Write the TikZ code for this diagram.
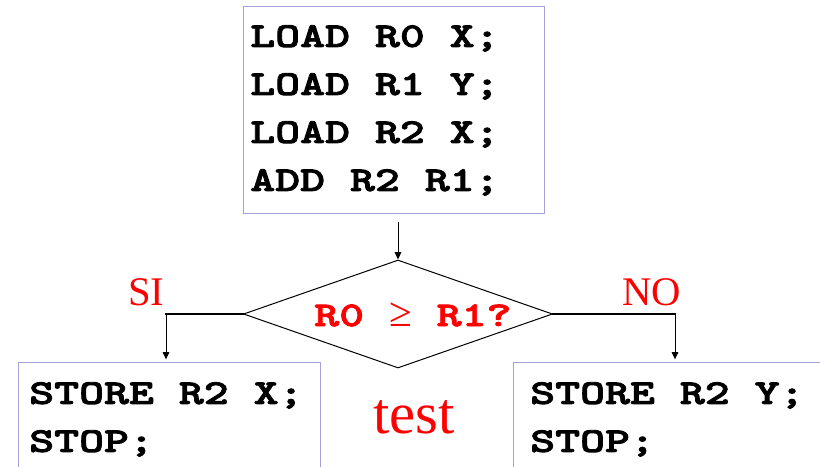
\documentclass[tikz,border=0pt]{standalone}
\usepackage{fontspec}
\setmainfont{Liberation Serif}
\newfontfamily\codefont[FakeStretch=1.37,FakeBold=2.5]{lmmonolt10-bold.otf}
\usetikzlibrary{shapes.geometric,arrows.meta}
\definecolor{boxline}{RGB}{163,163,214}
\newcommand\geqsym{{\rmfamily\mdseries\fontsize{31}{36}\selectfont ≥}}
\begin{document}
\begin{tikzpicture}[x=0.75pt,y=-0.75pt,
  codebox/.style={draw=boxline,line width=1.1pt,inner sep=0pt,anchor=north west},
  code/.style={font=\codefont\fontsize{26}{36}\selectfont,align=left,inner sep=0pt,anchor=north west},
  lbl/.style={text=red,inner sep=0pt,anchor=base west},
  arrow/.style={-{Triangle[length=5.5pt,width=5pt]},line width=0.75pt},
  hline/.style={line width=1.5pt,line cap=rect}]
  \useasboundingbox (0,0) rectangle (820,467);
  \clip (0,0) rectangle (820,467);

  % program blocks
  \node[codebox,minimum width=225.75pt,minimum height=155.25pt] (topbox) at (243,6) {};
  \node[codebox,minimum width=226.5pt,minimum height=112.5pt] (leftbox) at (18,362) {};
  \node[codebox,minimum width=255pt,minimum height=112.5pt] (rightbox) at (513,362) {};

  \node[code] (topcode) at (250,25) {LOAD R0 X;\\LOAD R1 Y;\\LOAD R2 X;\\ADD R2 R1;};
  \node[code] (leftcode) at (29,382) {STORE R2 X;\\STOP;};
  \node[code] (rightcode) at (530,382) {STORE R2 Y;\\STOP;};

  % decision
  \node[diamond,draw,line width=0.75pt,inner sep=0pt,minimum width=231.75pt,minimum height=81pt] (dec) at (398,314) {};
  \node[code,text=red,anchor=base west] (cond) at (314,326) {R0 \geqsym{} R1?};

  % labels
  \node[lbl,font=\fontsize{30.5}{36}\selectfont] (si) at (128,305) {SI};
  \node[lbl,font=\fontsize{30.5}{36}\selectfont] (no) at (622,305) {NO};
  \node[lbl,font=\fontsize{44}{50}\selectfont] (test) at (373,433) {test};

  % connectors
  \coordinate (topstart) at (398,222);
  \draw[arrow] (topstart) -- (dec.north);
  \coordinate (siturn) at (166,314);
  \coordinate (noturn) at (675,314);
  \draw[hline] (dec.west) -- (siturn);
  \draw[hline] (dec.east) -- (noturn);
  \draw[arrow] (siturn) -- ([yshift=2pt]siturn |- leftbox.north);
  \draw[arrow] (noturn) -- ([yshift=2pt]noturn |- rightbox.north);
\end{tikzpicture}
\end{document}
